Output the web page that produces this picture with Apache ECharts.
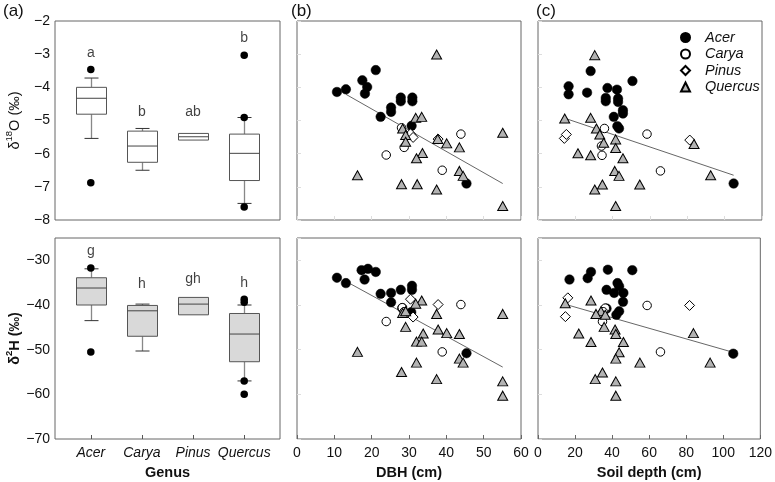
<!DOCTYPE html>
<html><head><meta charset="utf-8">
<script src="https://cdn.jsdelivr.net/npm/echarts@6/dist/echarts.min.js"></script>
<style>html,body{margin:0;padding:0;background:#fff}#c{width:775px;height:482px}</style>
</head><body><div id="c"></div>
<script>
// ---------- data ----------
const genera = ['Acer', 'Carya', 'Pinus', 'Quercus'];
// box statistics per genus: [min, Q1, median, Q3, max]
const boxO = [[-5.54, -4.81, -4.33, -4.00, -3.72], [-6.50, -6.26, -5.77, -5.32, -5.24], [-5.59, -5.59, -5.49, -5.39, -5.39], [-7.50, -6.81, -5.99, -5.41, -4.91]];
const boxH = [[-43.5, -40.0, -36.2, -33.9, -31.9], [-50.3, -47.0, -41.3, -40.1, -39.8], [-42.2, -42.2, -39.8, -38.3, -38.3], [-57.0, -52.7, -46.5, -41.9, -40.0]];
// outliers: [genus position (1..4), value]
const outO = [[1, -3.46], [1, -6.88], [4, -3.03], [4, -4.91], [4, -7.61]];
const outH = [[1, -31.7], [1, -50.5], [4, -38.7], [4, -39.4], [4, -57.0], [4, -60.0]];
const lettersO = ['a', 'b', 'ab', 'b'];
const letterYO = [-2.98, -4.74, -4.74, -2.53];
const lettersH = ['g', 'h', 'gh', 'h'];
const letterYH = [-28.0, -35.4, -34.2, -35.1];

// DBH vs δ18O
const acerDbhO = [[10.7,-4.14],[13.1,-4.06],[21.1,-3.48],[17.5,-3.79],[18.8,-3.99],[18.2,-4.19],[27.8,-4.31],[27.8,-4.42],[30.9,-4.31],[30.9,-4.42],[25.2,-4.61],[25.2,-4.74],[22.4,-4.89],[30.7,-5.16],[45.4,-6.90]];
const caryaDbhO = [[28.0,-5.22],[28.7,-5.81],[23.9,-6.04],[43.9,-5.41],[38.9,-6.50]];
const pinusDbhO = [[30.4,-5.40],[31.1,-5.51],[37.8,-5.56]];
const quercusDbhO = [[37.4,-3.01],[31.8,-4.92],[33.4,-4.89],[55.1,-5.37],[28.3,-5.24],[29.1,-5.44],[29.1,-5.64],[37.7,-5.56],[40.1,-5.69],[43.5,-5.81],[33.6,-5.98],[32.0,-6.14],[16.2,-6.65],[43.5,-6.52],[44.5,-6.67],[28.0,-6.92],[32.2,-6.92],[37.4,-7.08],[55.1,-7.58]];
// DBH vs δ2H
const acerDbhH = [[10.7,-33.9],[13.1,-35.1],[17.3,-32.2],[19.0,-31.9],[21.1,-32.6],[18.1,-34.3],[22.4,-37.5],[25.2,-37.3],[25.2,-39.4],[27.8,-36.6],[30.8,-35.7],[30.8,-36.6],[28.2,-40.7],[30.6,-41.6],[45.4,-50.8]];
const caryaDbhH = [[23.9,-43.7],[28.2,-40.6],[43.9,-39.9],[38.9,-50.5],[28.7,-41.5]];
const pinusDbhH = [[30.4,-38.7],[31.1,-42.7],[37.8,-39.9]];
const quercusDbhH = [[33.4,-39.0],[31.8,-39.7],[55.1,-42.0],[37.4,-42.0],[28.3,-41.8],[29.1,-41.4],[29.1,-44.9],[37.8,-45.5],[40.1,-46.3],[43.5,-46.5],[33.8,-46.4],[32.0,-48.2],[33.4,-48.2],[16.2,-50.5],[43.5,-52.0],[44.5,-52.9],[32.0,-52.9],[28.0,-55.0],[37.4,-56.6],[55.1,-57.1],[55.1,-60.3]];
// Soil depth vs δ18O
const acerSoilO = [[16.4,-3.97],[16.4,-4.21],[28.2,-3.51],[26.3,-4.16],[37.2,-4.02],[42.3,-4.07],[36.3,-4.32],[36.3,-4.42],[42.9,-4.34],[42.9,-4.44],[50.6,-3.81],[45.5,-4.69],[45.5,-4.79],[40.6,-4.89],[42.5,-5.17],[43.4,-5.24],[104.8,-6.90]];
const caryaSoilO = [[35.6,-5.24],[58.4,-5.41],[34.0,-5.77],[34.3,-6.05],[65.6,-6.52]];
const pinusSoilO = [[14.1,-5.54],[15.2,-5.42],[81.3,-5.59]];
const quercusSoilO = [[30.4,-3.03],[14.3,-4.94],[28.2,-4.92],[31.3,-5.24],[33.1,-5.42],[35.2,-5.67],[41.6,-5.57],[41.6,-5.83],[83.6,-5.71],[21.4,-5.99],[28.2,-6.05],[45.5,-6.14],[41.1,-6.52],[43.4,-6.67],[92.5,-6.65],[54.5,-6.93],[34.5,-6.93],[30.4,-7.08],[41.6,-7.58]];
// Soil depth vs δ2H
const acerSoilH = [[17.0,-34.3],[26.8,-34.0],[28.6,-32.6],[37.7,-32.1],[50.9,-32.2],[42.9,-35.1],[43.8,-35.8],[37.0,-36.6],[41.1,-37.3],[46.1,-37.3],[45.9,-39.3],[37.0,-40.8],[43.8,-41.4],[42.3,-42.2],[105.4,-50.9]];
const caryaSoilH = [[36.3,-40.7],[58.9,-40.1],[34.8,-43.7],[66.1,-50.5],[35.2,-41.5]];
const pinusSoilH = [[16.1,-38.4],[14.8,-42.6],[81.8,-40.1]];
const quercusSoilH = [[14.7,-39.6],[28.6,-39.0],[34.0,-41.4],[31.3,-42.0],[36.3,-42.2],[35.7,-44.9],[41.6,-45.5],[42.0,-46.5],[83.9,-46.3],[22.0,-46.4],[46.1,-48.3],[28.6,-48.3],[43.8,-50.6],[42.0,-52.0],[55.0,-52.9],[92.9,-52.9],[34.8,-55.1],[30.9,-56.6],[42.0,-57.1],[42.0,-60.3]];
// regression lines
const fitDbhO = [[13.1,-4.21],[55.1,-6.90]];
const fitDbhH = [[14.4,-35.3],[55.1,-53.9]];
const fitSoilO = [[14.8,-4.94],[104.8,-6.65]];
const fitSoilH = [[15.2,-39.9],[105.4,-50.6]];
const genusTicks = [1, 2, 3, 4];

// ---------- chart ----------
const FONT = 'Liberation Sans, Arial, sans-serif';
const minus = v => String(v).replace('-', '\u2212');
const chart = echarts.init(document.getElementById('c'), null, {renderer: 'canvas'});

const colL = [55, 297, 538], colW = [225, 224, 224];
const rowT = [21, 238], rowH = [199, 201];
const grids = [];
for (let r = 0; r < 2; r++) for (let c = 0; c < 3; c++) {
  grids.push({left: colL[c], top: rowT[r], width: colW[c], height: rowH[r], show: true, borderColor: '#666', borderWidth: 1, backgroundColor: 'transparent', containLabel: false});
}
const axLabel = {fontFamily: FONT, fontSize: 14, color: '#111'};
const xAxes = [], yAxes = [];
for (let r = 0; r < 2; r++) for (let c = 0; c < 3; c++) {
  const gi = r * 3 + c;
  const bottom = r === 1;
  let xa;
  if (c === 0) {
    xa = {type: 'value', min: 0.3, max: 4.7,
      axisTick: {show: bottom, inside: true, length: 4, customValues: genusTicks, lineStyle: {color: '#555'}},
      axisLabel: Object.assign({show: bottom, customValues: genusTicks, formatter: v => genera[Math.round(v) - 1] || '', fontStyle: 'italic', margin: 7}, axLabel),
      name: bottom ? 'Genus' : '', nameLocation: 'middle', nameGap: 26,
      nameTextStyle: {fontFamily: FONT, fontSize: 14.5, fontWeight: 'bold', color: '#111'}};
  } else {
    const mx = c === 1 ? 60 : 120, iv = c === 1 ? 10 : 20;
    xa = {type: 'value', min: 0, max: mx, interval: iv,
      axisTick: {show: true, inside: true, length: 4, lineStyle: {color: bottom ? '#666' : '#ddd'}},
      axisLabel: Object.assign({show: bottom, margin: 7}, axLabel),
      name: bottom ? (c === 1 ? 'DBH (cm)' : 'Soil depth (cm)') : '', nameLocation: 'middle', nameGap: 26,
      nameTextStyle: {fontFamily: FONT, fontSize: 14.5, fontWeight: 'bold', color: '#111'}};
  }
  Object.assign(xa, {gridIndex: gi, axisLine: {show: false}, splitLine: {show: false}});
  xAxes.push(xa);
  const ya = {type: 'value', gridIndex: gi,
    min: bottom ? -70 : -8, max: bottom ? -25 : -2, interval: bottom ? 10 : 1,
    axisLine: {show: false}, splitLine: {show: false},
    axisTick: {show: c !== 0, inside: true, length: 4, lineStyle: {color: '#ddd'}},
    axisLabel: Object.assign({show: c === 0, formatter: minus, showMaxLabel: !bottom, margin: 5}, axLabel)};
  if (c === 0) {
    ya.name = bottom ? '{a|\u03b4}{s|2}{a|H (\u2030)}' : '{a|\u03b4}{s|18}{a|O (\u2030)}';
    ya.nameLocation = 'middle'; ya.nameGap = 33; ya.nameRotate = 90;
    const w = bottom ? 'bold' : 'normal';
    ya.nameTextStyle = {rich: {
      a: {fontFamily: FONT, fontSize: 14.5, fontWeight: w, color: '#111', lineHeight: 18, verticalAlign: 'bottom'},
      s: {fontFamily: FONT, fontSize: 9.5, fontWeight: w, color: '#111', lineHeight: 18, verticalAlign: 'top'}}};
  }
  yAxes.push(ya);
}

function boxRender(fill) {
  return function (params, api) {
    const x = api.value(0);
    const pMin = api.coord([x, api.value(1)]);
    const pQ1 = api.coord([x, api.value(2)]);
    const pMed = api.coord([x, api.value(3)]);
    const pQ3 = api.coord([x, api.value(4)]);
    const pMax = api.coord([x, api.value(5)]);
    const cx = Math.round(pMed[0]) + 0.5;
    const hw = 15, cw = 7;
    const vs = {stroke: '#888', lineWidth: 1.3};
    const cs = {stroke: '#333', lineWidth: 1};
    const ch = [];
    if (pMax[1] < pQ3[1] - 0.5) {
      ch.push({type: 'line', shape: {x1: cx, y1: pQ3[1], x2: cx, y2: pMax[1]}, style: vs});
      ch.push({type: 'line', shape: {x1: cx - cw, y1: pMax[1], x2: cx + cw, y2: pMax[1]}, style: cs});
    }
    if (pMin[1] > pQ1[1] + 0.5) {
      ch.push({type: 'line', shape: {x1: cx, y1: pQ1[1], x2: cx, y2: pMin[1]}, style: vs});
      ch.push({type: 'line', shape: {x1: cx - cw, y1: pMin[1], x2: cx + cw, y2: pMin[1]}, style: cs});
    }
    ch.push({type: 'rect', shape: {x: cx - hw, y: pQ3[1], width: 2 * hw, height: pQ1[1] - pQ3[1]}, style: {fill: fill, stroke: '#555', lineWidth: 1}});
    ch.push({type: 'line', shape: {x1: cx - hw, y1: pMed[1], x2: cx + hw, y2: pMed[1]}, style: {stroke: '#444', lineWidth: 1}});
    return {type: 'group', children: ch};
  };
}

const styleMap = {
  Acer: {symbol: 'circle', symbolSize: 9.5, itemStyle: {color: '#000', borderColor: '#000', borderWidth: 0.5, opacity: 1}},
  Carya: {symbol: 'circle', symbolSize: 8.5, itemStyle: {color: '#fff', borderColor: '#000', borderWidth: 1, opacity: 1}},
  Pinus: {symbol: 'diamond', symbolSize: [10, 10], itemStyle: {color: '#fff', borderColor: '#000', borderWidth: 1, opacity: 1}},
  Quercus: {symbol: 'triangle', symbolSize: [10, 9], itemStyle: {color: '#b3b3b3', borderColor: '#000', borderWidth: 1, opacity: 1}}
};

const series = [];
[[0, boxO, outO, lettersO, letterYO, '#fff'], [3, boxH, outH, lettersH, letterYH, '#d9d9d9']].forEach(([gi, box, out, lets, ly, fill]) => {
  series.push({type: 'custom', xAxisIndex: gi, yAxisIndex: gi, renderItem: boxRender(fill),
    encode: {x: 0, y: [1, 2, 3, 4, 5]}, data: box.map((b, i) => [i + 1].concat(b)), z: 2});
  series.push({type: 'scatter', xAxisIndex: gi, yAxisIndex: gi, symbol: 'circle', symbolSize: 7.5,
    itemStyle: {color: '#000', opacity: 1}, data: out, z: 3});
  series.push({type: 'scatter', xAxisIndex: gi, yAxisIndex: gi, symbolSize: 1, itemStyle: {color: 'rgba(0,0,0,0)'},
    data: ly.map((v, i) => [i + 1, v]),
    label: {show: true, position: 'inside', formatter: p => lets[p.dataIndex], fontFamily: FONT, fontSize: 14, color: '#111'}});
});

const panels = [
  [1, {Acer: acerDbhO, Carya: caryaDbhO, Pinus: pinusDbhO, Quercus: quercusDbhO}, fitDbhO],
  [2, {Acer: acerSoilO, Carya: caryaSoilO, Pinus: pinusSoilO, Quercus: quercusSoilO}, fitSoilO],
  [4, {Acer: acerDbhH, Carya: caryaDbhH, Pinus: pinusDbhH, Quercus: quercusDbhH}, fitDbhH],
  [5, {Acer: acerSoilH, Carya: caryaSoilH, Pinus: pinusSoilH, Quercus: quercusSoilH}, fitSoilH]
];
panels.forEach(([gi, sets, fit]) => {
  series.push({type: 'line', xAxisIndex: gi, yAxisIndex: gi, data: fit, symbol: 'none',
    lineStyle: {color: '#555', width: 0.9}, z: 1, silent: true});
  genera.forEach(g => {
    series.push(Object.assign({type: 'scatter', name: g, xAxisIndex: gi, yAxisIndex: gi, data: sets[g], z: 2}, styleMap[g]));
  });
});

chart.setOption({
  animation: false,
  backgroundColor: '#fff',
  grid: grids, xAxis: xAxes, yAxis: yAxes, series: series,
  legend: {data: genera, orient: 'vertical', left: 675, top: 25, itemWidth: 9, itemHeight: 9, itemGap: 1.5,
    selectedMode: false,
    textStyle: {fontFamily: FONT, fontSize: 14.5, fontStyle: 'italic', color: '#111', padding: [0, 0, 0, 10]}},
  graphic: [
    {type: 'text', left: 3, top: 3, style: {text: '(a)', fontFamily: FONT, fontSize: 17, fill: '#111'}},
    {type: 'text', left: 291, top: 3, style: {text: '(b)', fontFamily: FONT, fontSize: 17, fill: '#111'}},
    {type: 'text', left: 536, top: 3, style: {text: '(c)', fontFamily: FONT, fontSize: 17, fill: '#111'}}
  ]
});
</script></body></html>
